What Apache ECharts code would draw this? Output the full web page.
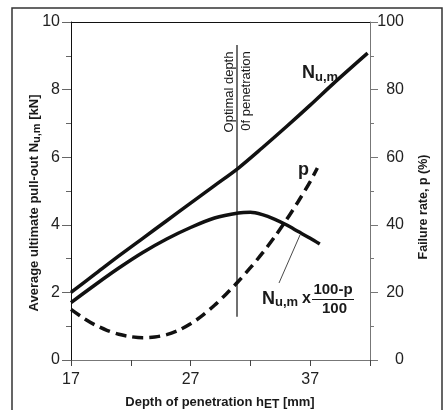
<!DOCTYPE html>
<html><head><meta charset="utf-8">
<script src="https://cdn.jsdelivr.net/npm/echarts@6/dist/echarts.min.js"></script>
<style>html,body{margin:0;padding:0;background:#fff}#c{width:445px;height:410px}</style>
</head><body><div id="c"></div>
<script>
// ---- data ----
const depthUpper = [17, 19, 21, 23, 25, 27, 29, 31, 33, 35, 37, 39, 41.8];
const nuUpper    = [2.0, 2.54, 3.08, 3.6, 4.12, 4.64, 5.16, 5.68, 6.28, 6.9, 7.54, 8.2, 9.08];
const depthLower = [17, 19, 21, 23, 25, 27, 29, 31, 32, 33, 34, 35, 36, 37, 37.8];
const nuReduced  = [1.7, 2.22, 2.72, 3.18, 3.58, 3.92, 4.2, 4.35, 4.37, 4.3, 4.17, 4.0, 3.8, 3.6, 3.43];
const depthP     = [17, 18, 19, 20, 21, 22, 23, 24, 25, 26, 27, 28, 29, 30, 31, 32, 33, 34, 35, 36, 37, 37.6];
const failureRate= [15, 12.5, 10.4, 8.8, 7.6, 6.9, 6.6, 6.8, 7.5, 8.8, 10.7, 13.2, 16.2, 19.6, 23.3, 27.3, 31.6, 36.3, 41.4, 46.9, 52.8, 56.8];
const optimalDepth = [30.88, 30.88];
const optimalSpan  = [1.28, 9.32];
const xLabelTicks  = [17, 27, 37];

const FONT = "'Liberation Sans', Arial, Helvetica, sans-serif";
const pairs = (xs, ys) => xs.map((x, i) => [x, ys[i]]);

const chart = echarts.init(document.getElementById('c'), null, {renderer: 'canvas'});

function txt(x, baseline, text, size, bold, extra) {
  return Object.assign({
    type: 'text', x: x, y: baseline - 0.3 * size,
    style: {text: text, fontSize: size, fontWeight: bold ? 'bold' : 'normal',
            fontFamily: FONT, fill: '#1a1a1a', align: 'left', verticalAlign: 'middle'}
  }, extra || {});
}

const option = {
  animation: false,
  backgroundColor: '#fff',
  grid: {left: 71, right: 75, top: 22, bottom: 50},
  xAxis: [{
    type: 'value', min: 17, max: 42, interval: 5,
    axisLine: {onZero: false, lineStyle: {color: '#777', width: 1}},
    axisTick: {length: 6, lineStyle: {color: '#444'}},
    splitLine: {show: false},
    axisLabel: {margin: 12, fontSize: 16, color: '#222', fontFamily: FONT,
      formatter: v => xLabelTicks.indexOf(v) >= 0 ? String(v) : ''}
  }, {
    type: 'value', position: 'top', min: 17, max: 42,
    axisLine: {show: true, onZero: false, lineStyle: {color: '#111', width: 1}},
    axisTick: {show: false}, axisLabel: {show: false}, splitLine: {show: false}
  }],
  yAxis: [{
    type: 'value', min: 0, max: 10, interval: 2, position: 'left',
    axisLine: {show: true, onZero: false, lineStyle: {color: '#111', width: 1}},
    axisTick: {show: true, length: 9, lineStyle: {color: '#666'}},
    minorTick: {show: true, splitNumber: 2, length: 5, lineStyle: {color: '#666'}},
    splitLine: {show: false},
    axisLabel: {margin: 11, fontSize: 16, color: '#222', fontFamily: FONT}
  }, {
    type: 'value', min: 0, max: 100, interval: 20, position: 'right',
    axisLine: {show: true, onZero: false, lineStyle: {color: '#777', width: 1}},
    axisTick: {show: true, length: 8, lineStyle: {color: '#777'}},
    minorTick: {show: true, splitNumber: 2, length: 4, lineStyle: {color: '#777'}},
    splitLine: {show: false},
    axisLabel: {margin: 34, align: 'right', fontSize: 16, color: '#222', fontFamily: FONT}
  }],
  series: [{
    type: 'line', name: 'Nu,m', data: pairs(depthUpper, nuUpper), smooth: 0.3,
    showSymbol: false, lineStyle: {color: '#111', width: 3.5}
  }, {
    type: 'line', name: 'Nu,m x (100-p)/100', data: pairs(depthLower, nuReduced), smooth: 0.3,
    showSymbol: false, lineStyle: {color: '#111', width: 3.5}
  }, {
    type: 'line', name: 'p', yAxisIndex: 1, data: pairs(depthP, failureRate), smooth: 0.3,
    showSymbol: false, lineStyle: {color: '#111', width: 3.5, type: [11, 6]}
  }, {
    type: 'line', name: 'optimal', data: pairs(optimalDepth, optimalSpan),
    showSymbol: false, lineStyle: {color: '#111', width: 1.2}
  }],
  graphic: [
    {type: 'rect', shape: {x: 12, y: 8, width: 430, height: 440}, style: {fill: 'none', stroke: '#333', lineWidth: 1.5}},
    // axis titles
    {type: 'text', x: 34, y: 203, rotation: Math.PI / 2,
      style: {text: 'Average ultimate pull-out N{s|u,m} [kN]', fontSize: 13, fontWeight: 'bold', fontFamily: FONT,
        fill: '#1a1a1a', align: 'center', verticalAlign: 'middle', lineHeight: 17,
        rich: {s: {fontSize: 11, fontWeight: 'bold', fontFamily: FONT, verticalAlign: 'bottom', lineHeight: 12}}}},
    {type: 'text', x: 424, y: 207, rotation: Math.PI / 2,
      style: {text: 'Failure rate, p (%)', fontSize: 12.5, fontWeight: 'bold', fontFamily: FONT,
        fill: '#1a1a1a', align: 'center', verticalAlign: 'middle'}},
    {type: 'text', x: 220, y: 402,
      style: {text: 'Depth of penetration h{s|ET} [mm]', fontSize: 13, fontWeight: 'bold', fontFamily: FONT,
        fill: '#1a1a1a', align: 'center', verticalAlign: 'middle', lineHeight: 17,
        rich: {s: {fontSize: 12, fontWeight: 'bold', fontFamily: FONT, verticalAlign: 'bottom', lineHeight: 12}}}},
    // optimal depth annotation
    {type: 'text', x: 229, y: 92, rotation: Math.PI / 2,
      style: {text: 'Optimal depth', fontSize: 13, fontFamily: FONT, fill: '#1a1a1a', align: 'center', verticalAlign: 'middle'}},
    {type: 'text', x: 246, y: 91, rotation: Math.PI / 2,
      style: {text: '0f penetration', fontSize: 13, fontFamily: FONT, fill: '#1a1a1a', align: 'center', verticalAlign: 'middle'}},
    // curve labels
    txt(302, 78, 'N', 18, true),
    txt(315, 81, 'u,m', 13, true),
    txt(298, 175, 'p', 18, true),
    txt(262, 304, 'N', 18, true),
    txt(275, 306, 'u,m', 13, true),
    txt(302, 303, 'x', 16, true),
    {type: 'text', x: 333, y: 294 - 0.3 * 15,
      style: {text: '100-p', fontSize: 15, fontWeight: 'bold', fontFamily: FONT, fill: '#1a1a1a', align: 'center', verticalAlign: 'middle'}},
    {type: 'line', shape: {x1: 312, y1: 299.5, x2: 354, y2: 299.5}, style: {stroke: '#1a1a1a', lineWidth: 1.2}},
    {type: 'text', x: 334.5, y: 313 - 0.3 * 15,
      style: {text: '100', fontSize: 15, fontWeight: 'bold', fontFamily: FONT, fill: '#1a1a1a', align: 'center', verticalAlign: 'middle'}},
    {type: 'line', shape: {x1: 300, y1: 235, x2: 279, y2: 283}, style: {stroke: '#1a1a1a', lineWidth: 0.8}}
  ]
};
chart.setOption(option);
</script>
</body></html>
